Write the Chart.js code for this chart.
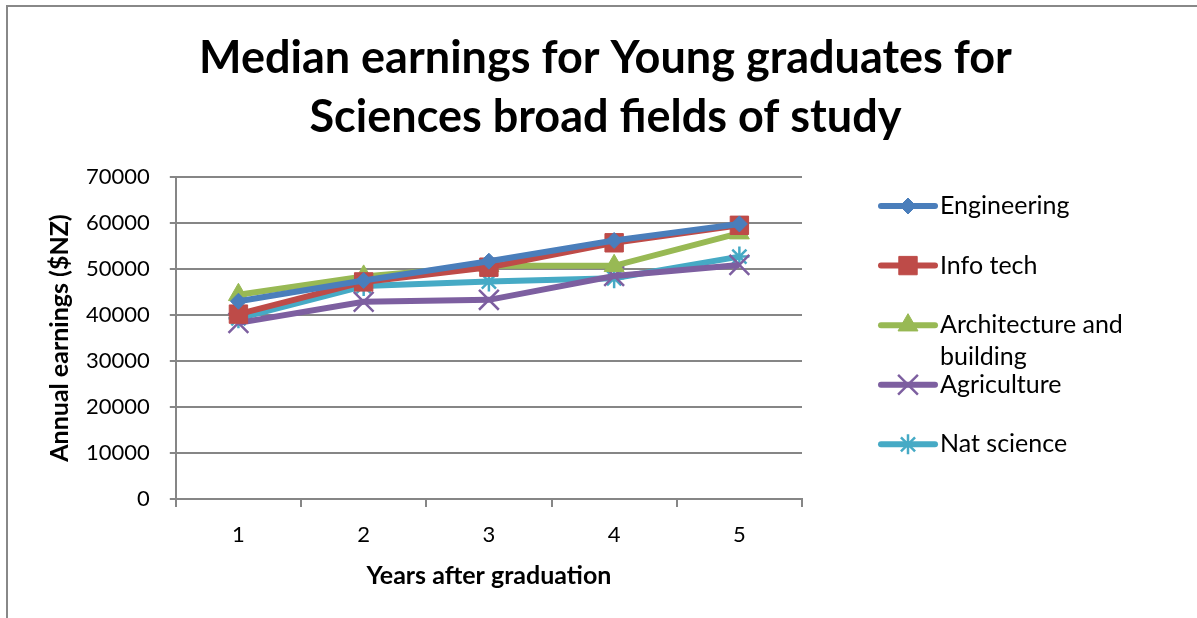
<!DOCTYPE html>
<html>
<head>
<meta charset="utf-8">
<script src="https://cdn.jsdelivr.net/npm/chart.js@4.4.1/dist/chart.umd.min.js"></script>
<style>
  html, body { margin: 0; padding: 0; background: #fff; }
  #wrap { width: 1197px; height: 618px; position: relative; }
</style>
</head>
<body>
<div id="wrap"><canvas id="c" width="1197" height="618"></canvas></div>
<script>
const categories = ['1', '2', '3', '4', '5'];
const engineering = [43000, 47500, 51700, 56200, 59800];
const infoTech = [40200, 47200, 50400, 55700, 59500];
const architecture = [44400, 48400, 50700, 50700, 57800];
const agriculture = [38300, 42900, 43300, 48500, 50900];
const natScience = [39300, 46300, 47300, 48000, 52700];
const yTicks = [0, 10000, 20000, 30000, 40000, 50000, 60000, 70000];
const titleLines = ['Median earnings for Young graduates for', 'Sciences broad fields of study'];

const FONT = 'Lato, Carlito, "Open Sans", sans-serif';

const frame = {
  id: 'frame',
  beforeDraw(chart) {
    const ctx = chart.ctx;
    ctx.save();
    ctx.fillStyle = '#fff';
    ctx.fillRect(0, 0, chart.width, chart.height);
    ctx.strokeStyle = '#888888';
    ctx.lineWidth = 2;
    ctx.beginPath();
    ctx.moveTo(7, chart.height);
    ctx.lineTo(7, 6);
    ctx.lineTo(chart.width, 6);
    ctx.stroke();
    ctx.restore();
  },
  afterDraw(chart) {
    const ctx = chart.ctx;
    ctx.save();
    ctx.font = 'bold 45px ' + FONT;
    ctx.fillStyle = '#000';
    ctx.textAlign = 'center';
    ctx.textBaseline = 'middle';
    const cx = (chart.width + 14) / 2;
    titleLines.forEach((t, i) => ctx.fillText(t, cx, 58 + i * 59));
    ctx.restore();
  }
};

function wrapText(ctx, text, maxW) {
  const words = text.split(' ');
  const lines = [];
  let cur = '';
  for (const w of words) {
    const t = cur ? cur + ' ' + w : w;
    if (ctx.measureText(t).width > maxW && cur) { lines.push(cur); cur = w; }
    else cur = t;
  }
  if (cur) lines.push(cur);
  return lines;
}

const customLegend = {
  id: 'customLegend',
  afterDraw(chart) {
    const ctx = chart.ctx;
    const area = chart.chartArea;
    const x0 = area.right + 79;
    const step = (area.bottom - area.top) * 0.185;
    let y = area.top + 29;
    ctx.save();
    chart.data.datasets.forEach((ds) => {
      ctx.strokeStyle = ds.borderColor;
      ctx.lineWidth = 6;
      ctx.lineCap = 'round';
      ctx.beginPath();
      ctx.moveTo(x0, y);
      ctx.lineTo(x0 + 54, y);
      ctx.stroke();
      ctx.fillStyle = ds.pointBackgroundColor;
      ctx.strokeStyle = ds.pointBorderColor;
      ctx.lineWidth = ds.pointBorderWidth;
      ctx.lineCap = 'butt';
      Chart.helpers.drawPoint(ctx, {
        pointStyle: ds.pointStyle,
        radius: ds.pointRadius,
        borderWidth: ds.pointBorderWidth,
        rotation: 0
      }, x0 + 27, y);
      ctx.font = '25px ' + FONT;
      ctx.fillStyle = '#000';
      ctx.textBaseline = 'middle';
      ctx.textAlign = 'left';
      const lines = wrapText(ctx, ds.label, 225);
      lines.forEach((ln, i) => ctx.fillText(ln, x0 + 59, y + i * 32));
      y += step;
    });
    ctx.restore();
  }
};

function mk(label, data, color, style, radius, bw) {
  return {
    label, data,
    borderColor: color,
    backgroundColor: color,
    pointBackgroundColor: color,
    pointBorderColor: color,
    pointStyle: style,
    pointRadius: radius,
    pointHoverRadius: radius,
    pointBorderWidth: bw,
    borderWidth: 6,
    tension: 0,
    fill: false
  };
}

const datasets = [
  mk('Engineering', engineering, '#4A7EBB', 'rectRot', 8, 1),
  mk('Info tech', infoTech, '#BE4B48', 'rect', 13, 1),
  mk('Architecture and building', architecture, '#98B954', 'triangle', 11.5, 1),
  mk('Agriculture', agriculture, '#7D5FA0', 'crossRot', 14, 2.5),
  mk('Nat science', natScience, '#46AAC5', 'star', 10, 2.5)
];

new Chart(document.getElementById('c'), {
  type: 'line',
  data: { labels: categories, datasets },
  plugins: [frame, customLegend],
  options: {
    responsive: false,
    animation: false,
    layout: { padding: { left: 45.5, right: 395, top: 177, bottom: 29.5 } },
    plugins: {
      legend: { display: false },
      tooltip: { enabled: false },
      title: { display: false }
    },
    scales: {
      x: {
        offset: true,
        grid: {
          display: true, offset: true, drawOnChartArea: false,
          color: '#868686', lineWidth: 2, tickLength: 8
        },
        border: { color: '#868686', width: 2 },
        ticks: { color: '#000', font: { family: FONT, size: 22 }, padding: 15 },
        title: {
          display: true, text: 'Years after graduation', color: '#000',
          font: { family: FONT, size: 25, weight: 'bold', lineHeight: 1.0 }, padding: { top: 0, bottom: 0 }
        }
      },
      y: {
        min: 0, max: 70000,
        afterBuildTicks(scale) { scale.ticks = yTicks.map(v => ({ value: v })); },
        grid: { color: '#868686', lineWidth: 2, tickLength: 6 },
        border: { color: '#868686', width: 2 },
        ticks: {
          color: '#000', font: { family: FONT, size: 22 }, padding: 20,
          callback: (v) => String(v)
        },
        title: {
          display: true, text: 'Annual earnings ($NZ)', color: '#000',
          font: { family: FONT, size: 25, weight: 'bold', lineHeight: 1.0 }, padding: { top: 2, bottom: -6.5 }
        }
      }
    }
  }
});
</script>
</body>
</html>
